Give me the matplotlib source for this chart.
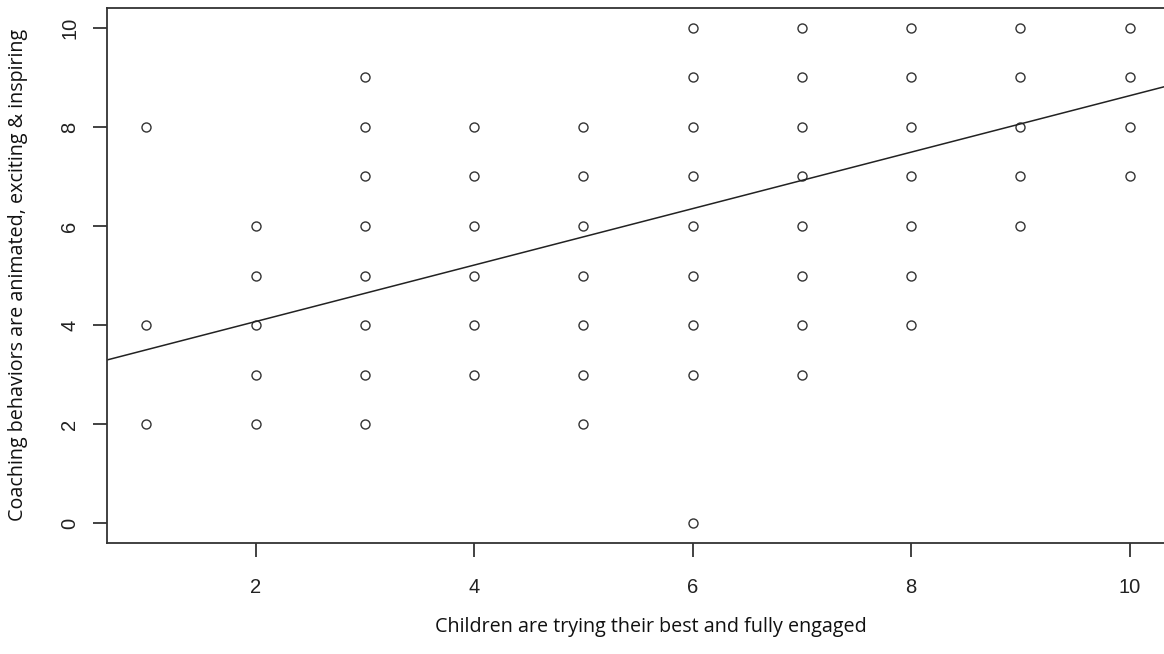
import matplotlib
matplotlib.use("Agg")
import matplotlib.pyplot as plt

# Datos (x = compromiso de los niños, y = conducta del entrenador)
x_vals = [1, 1, 1,
          2, 2, 2, 2, 2,
          3, 3, 3, 3, 3, 3, 3, 3,
          4, 4, 4, 4, 4, 4,
          5, 5, 5, 5, 5, 5, 5,
          6, 6, 6, 6, 6, 6, 6, 6, 6,
          7, 7, 7, 7, 7, 7, 7, 7,
          8, 8, 8, 8, 8, 8, 8,
          9, 9, 9, 9, 9,
          10, 10, 10, 10]
y_vals = [8, 4, 2,
          6, 5, 4, 3, 2,
          9, 8, 7, 6, 5, 4, 3, 2,
          8, 7, 6, 5, 4, 3,
          8, 7, 6, 5, 4, 3, 2,
          10, 9, 8, 7, 6, 5, 4, 3, 0,
          10, 9, 8, 7, 6, 5, 4, 3,
          10, 9, 8, 7, 6, 5, 4,
          10, 9, 8, 7, 6,
          10, 9, 8, 7]

# Recta de regresión (estimada del gráfico)
intercept = 2.93
slope = 0.57

x_ticks = [2, 4, 6, 8, 10]
y_ticks = [0, 2, 4, 6, 8, 10]
x_label = "Children are trying their best and fully engaged"
y_label = "Coaching behaviors are animated, exciting & inspiring"

fig = plt.figure(figsize=(11.64, 6.54), dpi=100)
ax = fig.add_axes([107 / 1164, 111 / 654, 1062 / 1164, 535 / 654])

ax.plot(x_vals, y_vals, linestyle="none", marker="o", markersize=6.5,
        markerfacecolor="none", markeredgecolor="#333333", markeredgewidth=1.0)
ax.axline((0, intercept), slope=slope, color="#222222", linewidth=1.1)

ax.set_xlim(0.64, 10.36)
ax.set_ylim(-0.4, 10.4)

for s in ax.spines.values():
    s.set_color("#333333")
    s.set_linewidth(1.3)

ax.set_xticks(x_ticks)
ax.set_yticks(y_ticks)
ax.tick_params(length=10, width=1.3, color="#333333", labelsize=14.5,
               labelcolor="#222222")
ax.tick_params(axis="x", pad=15)
ax.tick_params(axis="y", pad=10)
for lab in ax.get_xticklabels() + ax.get_yticklabels():
    lab.set_family("Liberation Sans")
for lab in ax.get_yticklabels():
    lab.set_rotation(90)
    lab.set_va("center")

fig.text(651 / 1164, 1 - 627 / 654, x_label, ha="center", va="center",
         fontsize=14.2, family="Open Sans", color="#111111")
fig.text(18 / 1164, 1 - 275 / 654, y_label, ha="center", va="center",
         rotation=90, fontsize=14.2, family="Open Sans", color="#111111")

fig.savefig("out.png", dpi=100)
